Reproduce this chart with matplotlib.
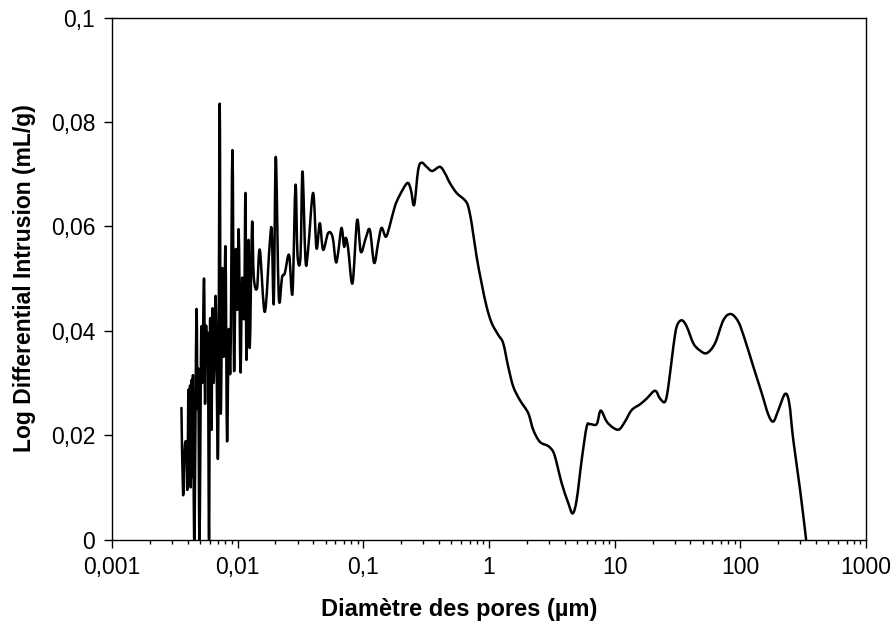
import matplotlib
matplotlib.use("Agg")
import numpy as np
import matplotlib.pyplot as plt
from matplotlib.path import Path
from matplotlib.patches import PathPatch
from matplotlib.ticker import FixedLocator, FixedFormatter, LogLocator, NullFormatter

plt.rcParams['font.family'] = ['Liberation Sans', 'DejaVu Sans']

# pore diameter (um) and log differential intrusion (mL/g)
diam = [0.00357, 0.00368, 0.00379, 0.00391, 0.00398, 0.00406, 0.00412, 0.00418,
        0.00423, 0.00431, 0.00437, 0.00441, 0.00452, 0.0047, 0.00479, 0.00486,
        0.00497, 0.00513, 0.00523, 0.0054, 0.0055, 0.0056, 0.00571, 0.0058,
        0.00592, 0.00603, 0.00619, 0.0063, 0.00645, 0.00669, 0.00698, 0.0072,
        0.00733, 0.00757, 0.00775, 0.008, 0.00823, 0.00849, 0.00876, 0.00909,
        0.00936, 0.00966, 0.00993, 0.0102, 0.01053, 0.01084, 0.01125, 0.01154,
        0.01175, 0.01219, 0.01248, 0.01302, 0.01343, 0.01427, 0.015, 0.01644,
        0.01801, 0.01868, 0.01938, 0.02011, 0.02124, 0.02257, 0.02371, 0.02566,
        0.02731, 0.02885, 0.02993, 0.03162, 0.0328, 0.03466, 0.03635, 0.03983,
        0.0424, 0.04504, 0.04784, 0.05244, 0.05686, 0.0604, 0.063, 0.06704,
        0.07032, 0.07256, 0.07568, 0.08203, 0.08925, 0.09553, 0.1047, 0.1127,
        0.1219, 0.1311, 0.1396, 0.1511, 0.1626, 0.1781, 0.1952, 0.224,
        0.2389, 0.2538, 0.2731, 0.2907, 0.3186, 0.353, 0.4065, 0.4455,
        0.4883, 0.5521, 0.6428, 0.6829, 0.727, 0.7967, 0.8731, 0.9571,
        1.049, 1.184, 1.297, 1.422, 1.559, 1.762, 2.052, 2.249,
        2.543, 2.96, 3.244, 3.453, 3.784, 4.271, 4.63, 4.983,
        5.461, 5.985, 6.357, 7.19, 7.736, 8.635, 9.749, 10.88,
        12.08, 13.66, 15.9, 17.98, 20.94, 22.95, 25.15, 26.72,
        29.28, 31.16, 34.15, 37.43, 42.24, 47.16, 54.01, 62.89,
        73.21, 83.87, 96.42, 109.0, 126.9, 148.1, 167.1, 183.1,
        200.7, 227.0, 245.0, 263.6, 298.8, 333.5]

intrusion = [0.0252, 0.0086, 0.0175, 0.018, 0.0095, 0.0287, 0.011, 0.0295,
             0.010, 0.0306, 0.012, 0.0315, 0.0, 0.0436, 0.025, 0.032,
             0.0, 0.040, 0.030, 0.050, 0.026, 0.041, 0.034, 0.038,
             0.0, 0.042, 0.021, 0.0443, 0.030, 0.0465, 0.0162, 0.0835,
             0.0248, 0.052, 0.035, 0.056, 0.019, 0.0401, 0.033, 0.0746,
             0.0325, 0.0555, 0.044, 0.0593, 0.032, 0.050, 0.0426, 0.0664,
             0.0344, 0.0574, 0.0367, 0.0606, 0.0503, 0.0482, 0.0555, 0.0436,
             0.0568, 0.059, 0.0453, 0.0733, 0.0465, 0.0503, 0.051, 0.0545,
             0.0472, 0.0679, 0.0545, 0.0542, 0.0705, 0.0535, 0.0555, 0.0664,
             0.0558, 0.0606, 0.0555, 0.0587, 0.058, 0.0532, 0.0549, 0.0597,
             0.0561, 0.0578, 0.0558, 0.0491, 0.0612, 0.0551, 0.0578, 0.0593,
             0.053, 0.0568, 0.0597, 0.058, 0.0602, 0.0638, 0.066, 0.0683,
             0.067, 0.0641, 0.0708, 0.0722, 0.0714, 0.0706, 0.0714, 0.0702,
             0.0683, 0.0664, 0.065, 0.0638, 0.0606, 0.0542, 0.0491, 0.0446,
             0.0415, 0.0392, 0.0376, 0.0331, 0.0293, 0.0267, 0.0242, 0.021,
             0.0187, 0.0179, 0.0168, 0.0147, 0.0108, 0.007, 0.005, 0.0076,
             0.0152, 0.0216, 0.0221, 0.0221, 0.0247, 0.0226, 0.0214, 0.0211,
             0.0226, 0.0248, 0.0259, 0.027, 0.0285, 0.027, 0.0264, 0.0293,
             0.0369, 0.0408, 0.042, 0.0408, 0.0376, 0.0363, 0.0357, 0.0376,
             0.042, 0.0432, 0.0417, 0.0382, 0.0331, 0.028, 0.0239, 0.0226,
             0.0248, 0.0279, 0.0261, 0.0191, 0.0095, 0.0]

x_ticks = [0.001, 0.01, 0.1, 1, 10, 100, 1000]
x_labels = ['0,001', '0,01', '0,1', '1', '10', '100', '1000']
y_ticks = [0, 0.02, 0.04, 0.06, 0.08, 0.1]
y_labels = ['0', '0,02', '0,04', '0,06', '0,08', '0,1']

fig = plt.figure(figsize=(8.93, 6.28), dpi=100)
ax = fig.add_axes([0.1254, 0.1409, 0.8444, 0.8312])

ax.set_xscale('log')
ax.set_xlim(0.001, 1000)
ax.set_ylim(0, 0.1)

# smoothed line like the spreadsheet one: bezier segments through the points,
# built in (log10 x, y) space so the log axis keeps the curve shape
pts = np.column_stack([np.log10(diam), intrusion])
ext = np.vstack([pts[0], pts, pts[-1]])
verts = [pts[0]]
codes = [Path.MOVETO]
for i in range(len(pts) - 1):
    p0, p1, p2, p3 = ext[i], ext[i + 1], ext[i + 2], ext[i + 3]
    verts += [p1 + (p2 - p0) / 6, p2 - (p3 - p1) / 6, p2]
    codes += [Path.CURVE4] * 3
verts = np.array(verts)
verts[:, 0] = 10 ** verts[:, 0]
curve = PathPatch(Path(verts, codes), fill=False, lw=1.8, edgecolor='black',
                  joinstyle='round', capstyle='round')
ax.add_patch(curve)

ax.xaxis.set_major_locator(FixedLocator(x_ticks))
ax.xaxis.set_major_formatter(FixedFormatter(x_labels))
ax.xaxis.set_minor_locator(LogLocator(base=10, subs=range(2, 10), numticks=20))
ax.xaxis.set_minor_formatter(NullFormatter())
ax.yaxis.set_major_locator(FixedLocator(y_ticks))
ax.yaxis.set_major_formatter(FixedFormatter(y_labels))

ax.tick_params(axis='both', which='major', direction='out', length=6,
               width=1, labelsize=16.5, color='black')
ax.tick_params(axis='x', which='major', pad=6)
ax.tick_params(axis='y', which='major', pad=6)
ax.tick_params(axis='x', which='minor', direction='out', length=3, width=1)
for s in ax.spines.values():
    s.set_linewidth(1)
    s.set_color('black')

ax.set_xlabel('Diamètre des pores (µm)', fontsize=17, fontweight='bold')
ax.xaxis.set_label_coords(0.46, -0.112)
ax.xaxis.label.set_va('top')
ax.set_ylabel('Log Differential Intrusion (mL/g)', fontsize=16.5, fontweight='bold')
ax.yaxis.set_label_coords(-0.101, 0.5)

fig.savefig('out.png', dpi=100)
